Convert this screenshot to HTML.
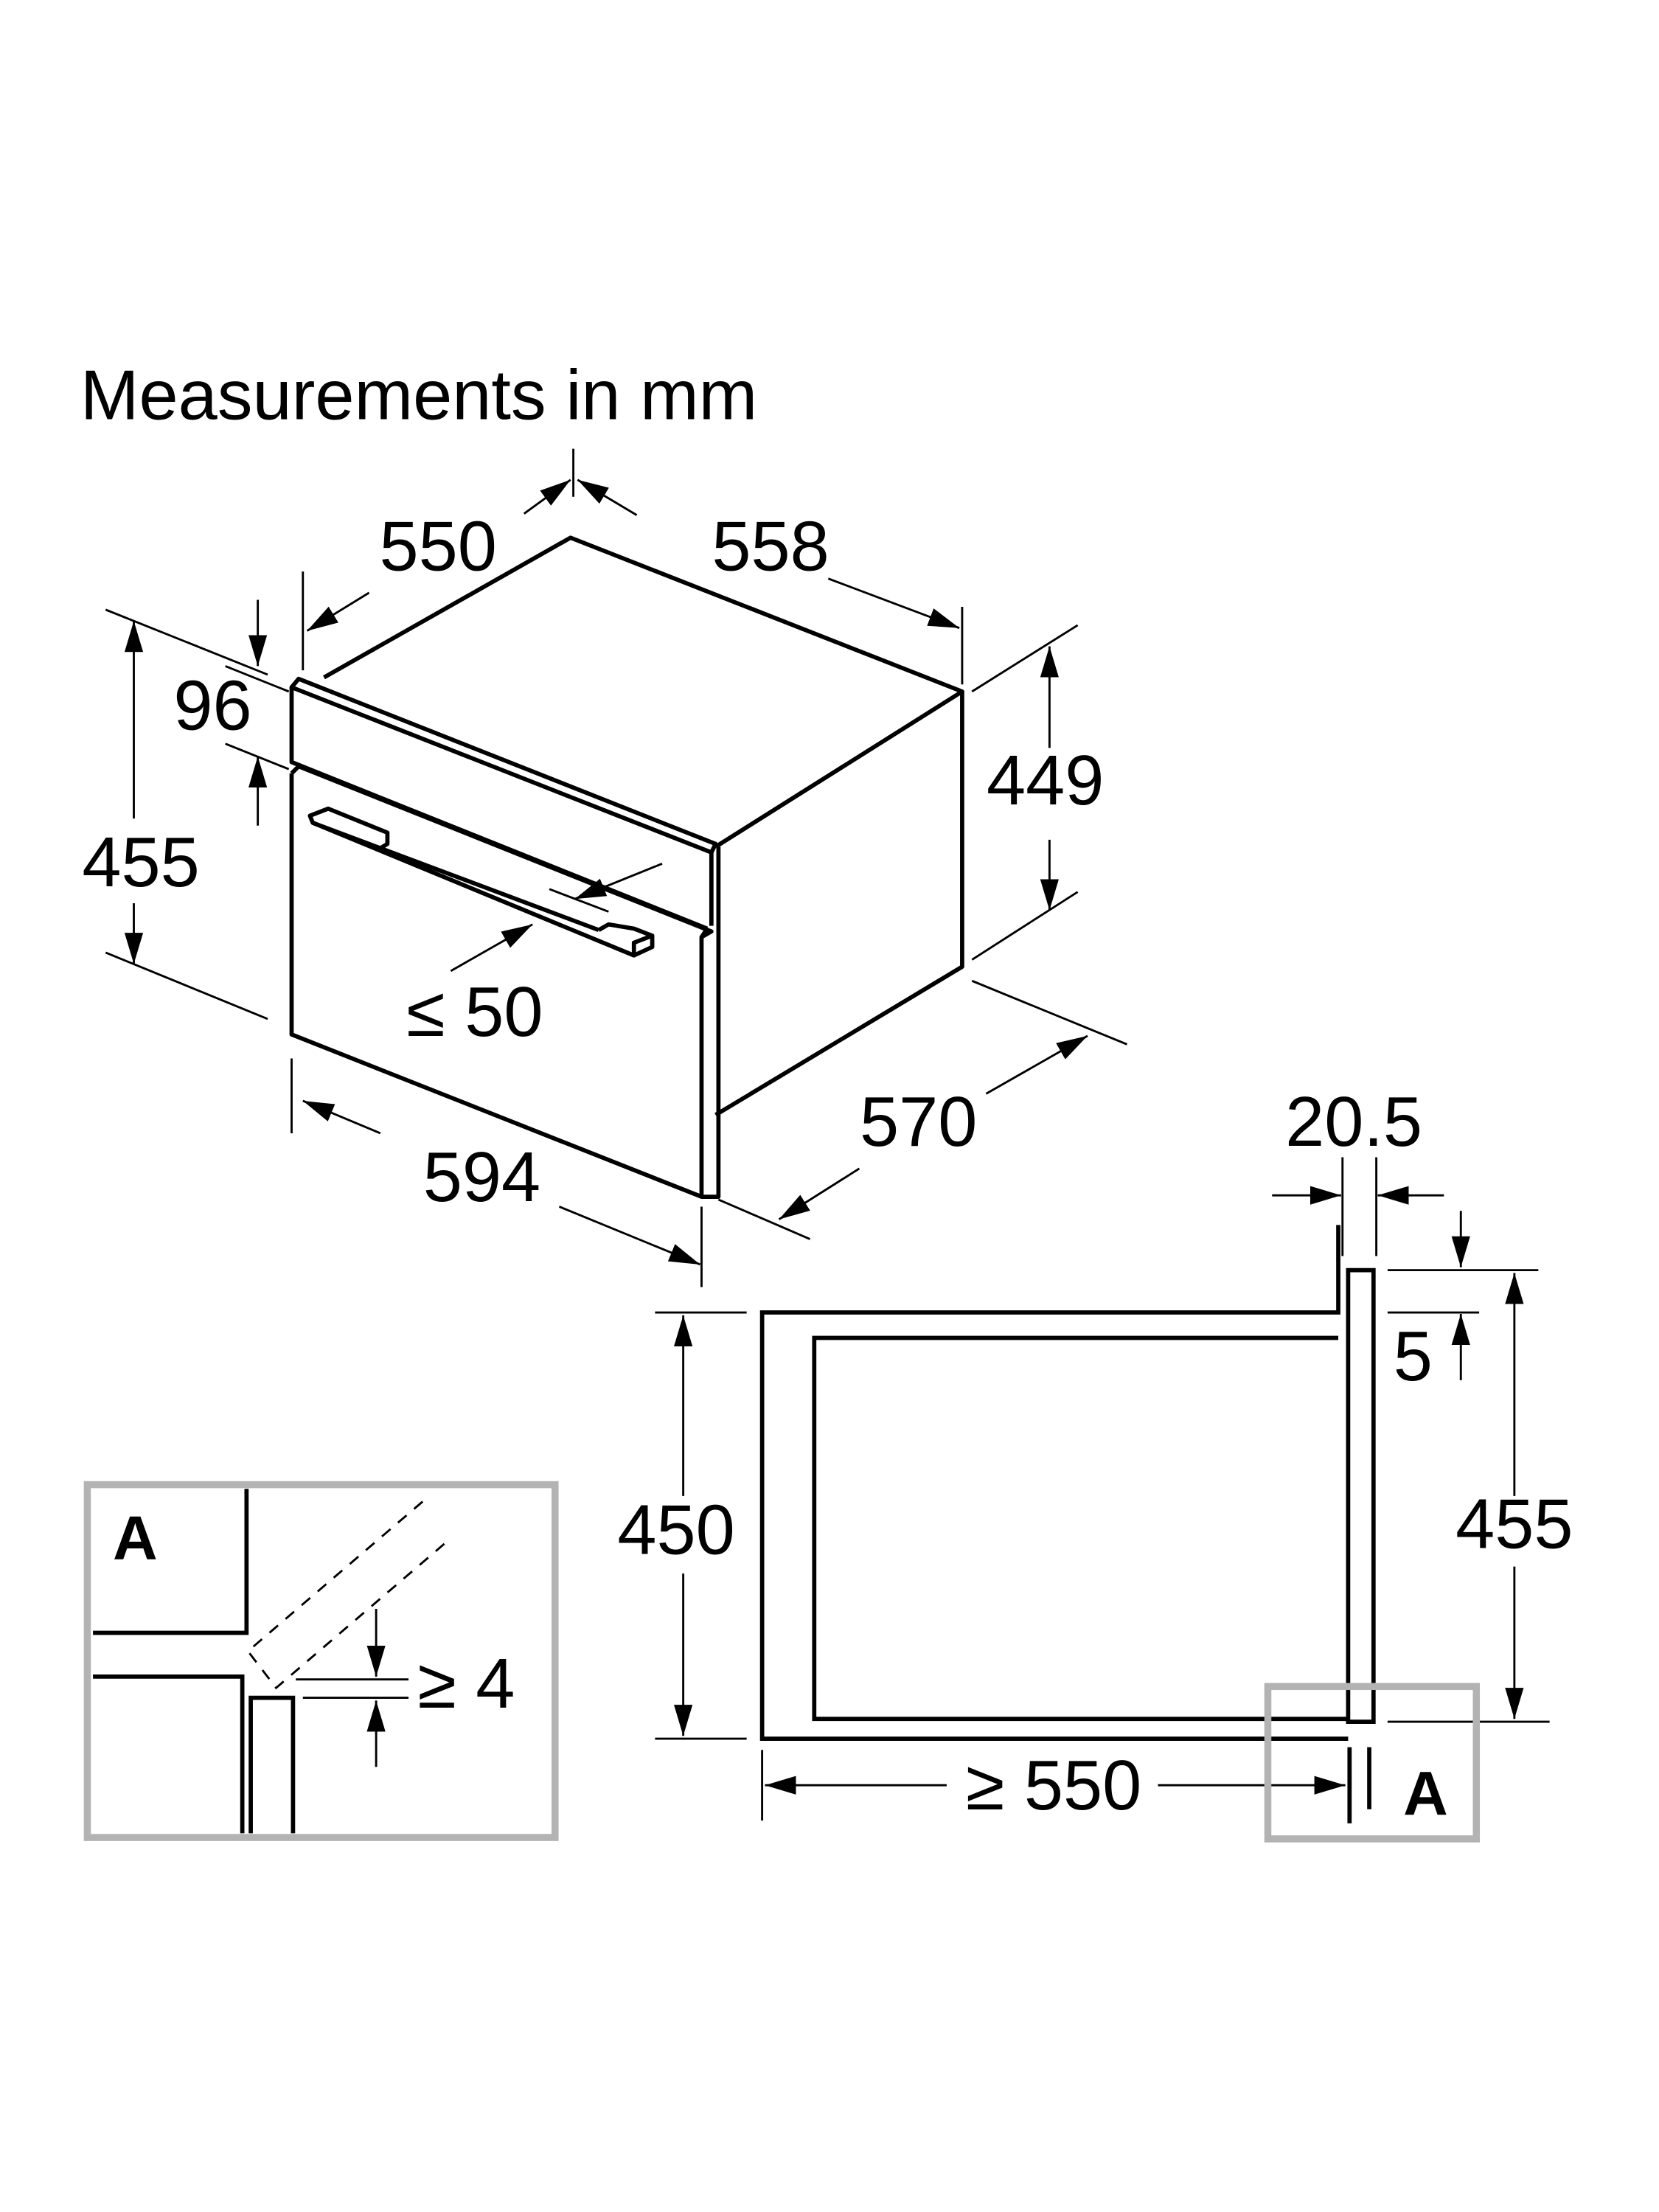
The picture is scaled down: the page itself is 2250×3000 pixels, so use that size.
<!DOCTYPE html>
<html><head><meta charset="utf-8"><style>
html,body{margin:0;padding:0;background:#fff}
svg{display:block}
text{font-family:"Liberation Sans",sans-serif;fill:#000}
</style></head><body>
<svg width="2250" height="3000" viewBox="0 0 1160 1547" preserveAspectRatio="none" xmlns="http://www.w3.org/2000/svg">
<defs>
<marker id="ar" viewBox="0 0 10 10" refX="10" refY="5" markerWidth="22" markerHeight="22" markerUnits="userSpaceOnUse" orient="auto">
<path d="M0,2 L10,5 L0,8 z" fill="#000"/></marker>
</defs>
<g transform="scale(0.985,0.987)">
<text x="57" y="297" font-size="50">Measurements in mm</text>

<g fill="none" stroke="#000" stroke-width="3" stroke-linejoin="round">
<path d="M230,480 L405,381 L683,490 L508,600"/>
<path d="M683,490 L683,685 L508,790"/>
<path d="M207,487 L212,481 L508,598 L505,604 Z"/>
<path d="M207,487 L207,540 L502,658"/>
<path d="M505,604 L505,656"/>
<path d="M207,548 L207,733 L498,848 L498,664 L502,658"/>
<path d="M207,548 L212,543 L505,660 L498,664"/>
<path d="M510,600 L510,848 L498,848"/>
<path d="M220,578 L233,573 L275,590 L275,598 L270,601 L222,583 Z"/>
<path d="M222,583 L450,677 L463,671 L463,663 L450,658 L432,655 L425,659"/>
<path d="M450,677 L450,668 L463,663"/>
<path d="M270,601 L425,659"/>
</g>
<g stroke="#000" stroke-width="1.5" fill="none">
<line x1="407" y1="318" x2="407" y2="352"/>
<line x1="372" y1="364" x2="405" y2="340" marker-end="url(#ar)"/>
<line x1="262" y1="420" x2="218" y2="447" marker-end="url(#ar)"/>
<line x1="215" y1="405" x2="215" y2="475"/>
<line x1="452" y1="365" x2="410" y2="340" marker-end="url(#ar)"/>
<line x1="588" y1="410" x2="681" y2="445" marker-end="url(#ar)"/>
<line x1="683" y1="430" x2="683" y2="485"/>
<line x1="75" y1="432" x2="190" y2="478"/>
<line x1="75" y1="675" x2="190" y2="722"/>
<line x1="95" y1="580" x2="95" y2="440" marker-end="url(#ar)"/>
<line x1="95" y1="640" x2="95" y2="683" marker-end="url(#ar)"/>
<line x1="183" y1="425" x2="183" y2="472" marker-end="url(#ar)"/>
<line x1="183" y1="585" x2="183" y2="536" marker-end="url(#ar)"/>
<line x1="160" y1="472" x2="205" y2="490"/>
<line x1="160" y1="527" x2="205" y2="545"/>
<line x1="690" y1="490" x2="765" y2="443"/>
<line x1="690" y1="680" x2="765" y2="632"/>
<line x1="745" y1="530" x2="745" y2="458" marker-end="url(#ar)"/>
<line x1="745" y1="595" x2="745" y2="645" marker-end="url(#ar)"/>
<line x1="690" y1="695" x2="800" y2="740"/>
<line x1="700" y1="775" x2="772" y2="734" marker-end="url(#ar)"/>
<line x1="610" y1="828" x2="553" y2="864" marker-end="url(#ar)"/>
<line x1="510" y1="850" x2="575" y2="878"/>
<line x1="207" y1="750" x2="207" y2="803"/>
<line x1="498" y1="855" x2="498" y2="912"/>
<line x1="270" y1="803" x2="215" y2="780" marker-end="url(#ar)"/>
<line x1="397" y1="855" x2="497" y2="896" marker-end="url(#ar)"/>
<line x1="320" y1="688" x2="378" y2="655" marker-end="url(#ar)"/>
<line x1="470" y1="612" x2="408" y2="637" marker-end="url(#ar)"/>
<line x1="390" y1="630" x2="432" y2="646"/>
</g>
<g font-size="50" text-anchor="middle">
<text x="311" y="404">550</text>
<text x="547" y="404">558</text>
<text x="151" y="517">96</text>
<text x="100" y="628">455</text>
<text x="742" y="570">449</text>
<text x="337" y="734">≤ 50</text>
<text x="652" y="812">570</text>
<text x="342" y="851">594</text>
<text x="961" y="812">20.5</text>
<text x="1003" y="978">5</text>
<text x="480" y="1101">450</text>
<text x="1075" y="1097">455</text>
<text x="748" y="1282">≥ 550</text>
<text x="331" y="1210">≥ 4</text>
</g>
<g font-size="44" font-weight="bold" text-anchor="middle">
<text x="96" y="1105">A</text>
<text x="1012" y="1286">A</text>
</g>

<g fill="none" stroke="#000" stroke-width="3">
<path d="M950,868 L950,930 L541,930 L541,1232 L957,1232"/>
<path d="M950,948 L578,948 L578,1218 L957,1218"/>
<rect x="957" y="900" width="18" height="320"/>
<line x1="958" y1="1238" x2="958" y2="1292"/>
<line x1="972" y1="1238" x2="972" y2="1282"/>
</g>
<g stroke="#000" stroke-width="1.5" fill="none">
<line x1="953" y1="820" x2="953" y2="890"/>
<line x1="977" y1="820" x2="977" y2="890"/>
<line x1="903" y1="847" x2="952" y2="847" marker-end="url(#ar)"/>
<line x1="1025" y1="847" x2="978" y2="847" marker-end="url(#ar)"/>
<line x1="1037" y1="858" x2="1037" y2="898" marker-end="url(#ar)"/>
<line x1="1037" y1="978" x2="1037" y2="931" marker-end="url(#ar)"/>
<line x1="985" y1="900" x2="1092" y2="900"/>
<line x1="985" y1="930" x2="1050" y2="930"/>
<line x1="985" y1="1220" x2="1100" y2="1220"/>
<line x1="1075" y1="1060" x2="1075" y2="902" marker-end="url(#ar)"/>
<line x1="1075" y1="1110" x2="1075" y2="1218" marker-end="url(#ar)"/>
<line x1="465" y1="930" x2="530" y2="930"/>
<line x1="465" y1="1232" x2="530" y2="1232"/>
<line x1="485" y1="1060" x2="485" y2="932" marker-end="url(#ar)"/>
<line x1="485" y1="1115" x2="485" y2="1230" marker-end="url(#ar)"/>
<line x1="541" y1="1240" x2="541" y2="1290"/>
<line x1="672" y1="1265" x2="543" y2="1265" marker-end="url(#ar)"/>
<line x1="822" y1="1265" x2="955" y2="1265" marker-end="url(#ar)"/>
</g>
<rect x="900" y="1195" width="148" height="108" fill="none" stroke="#b3b3b3" stroke-width="5"/>

<rect x="62" y="1052" width="332" height="250" fill="none" stroke="#b3b3b3" stroke-width="5"/>
<g fill="none" stroke="#000" stroke-width="3">
<path d="M175,1055 L175,1157 L66,1157"/>
<path d="M66,1188 L172,1188 L172,1299"/>
<path d="M178,1299 L178,1203 L208,1203 L208,1299"/>
</g>
<g stroke="#000" stroke-width="1.5" fill="none">
<path d="M300,1064 L176,1170 L196,1196 L320,1090" stroke-dasharray="8,7"/>
<line x1="210" y1="1190" x2="290" y2="1190"/>
<line x1="215" y1="1203" x2="290" y2="1203"/>
<line x1="267" y1="1140" x2="267" y2="1188" marker-end="url(#ar)"/>
<line x1="267" y1="1252" x2="267" y2="1205" marker-end="url(#ar)"/>
</g>
</g>
</svg>
</body></html>
